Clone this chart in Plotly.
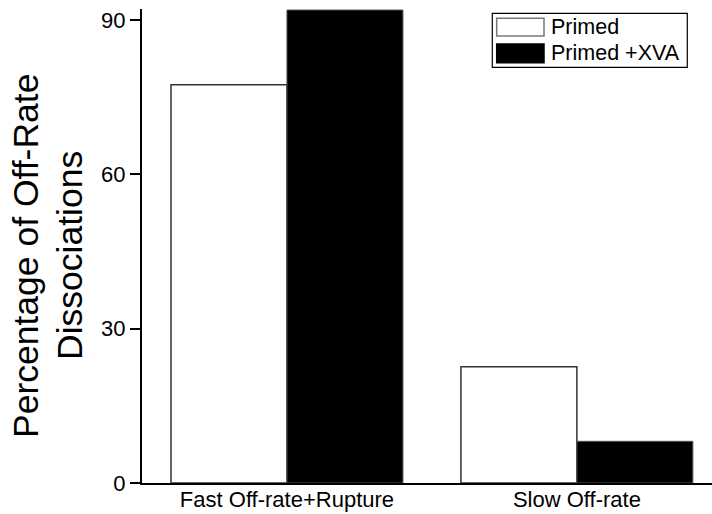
import plotly.graph_objects as go

categories = ["Fast Off-rate+Rupture", "Slow Off-rate"]
primed = [77.4, 22.6]
primed_xva = [91.9, 8.1]
series_names = ["Primed", "Primed +XVA"]
y_ticks = [0, 30, 60, 90]
y_title_lines = ["Percentage of Off-Rate", "Dissociations"]

FONT = "Liberation Sans, Arial, sans-serif"
W, H = 712, 514
ML, MR, MT, MB = 142, 0, 9, 31
PW = W - ML - MR
PH = H - MT - MB


def px(xp):
    return (xp - ML) / PW


def py(yp):
    return (H - MB - yp) / PH


fig = go.Figure()
fig.add_trace(go.Bar(x=categories, y=primed, name=series_names[0],
                     marker=dict(color="white", line=dict(color="#333333", width=1.5)),
                     showlegend=False))
fig.add_trace(go.Bar(x=categories, y=primed_xva, name=series_names[1],
                     marker=dict(color="black", line=dict(color="#555555", width=1)),
                     showlegend=False))

shapes = []
annotations = []
# legend box
shapes.append(dict(type="rect", xref="paper", yref="paper",
                   x0=px(492.3), x1=px(687.3), y0=py(67.3), y1=py(13.3),
                   line=dict(color="black", width=1.2), fillcolor="white", layer="above"))
swatches = [("white", "#777777", 18.3, 36.0), ("black", "black", 44.0, 62.7)]
for name, (fc, lc, t, b) in zip(series_names, swatches):
    shapes.append(dict(type="rect", xref="paper", yref="paper",
                       x0=px(496.7), x1=px(544), y0=py(b), y1=py(t),
                       line=dict(color=lc, width=1.5), fillcolor=fc, layer="above"))
    annotations.append(dict(text=name, xref="paper", yref="paper",
                            x=px(549), y=py((t + b) / 2), xanchor="left", yanchor="middle",
                            showarrow=False, font=dict(family=FONT, size=21.5, color="black")))

# y-axis title lines
for line, xc in zip(y_title_lines, [26, 70]):
    annotations.append(dict(text=line, xref="paper", yref="paper",
                            x=px(xc), y=py(256), xanchor="center", yanchor="middle",
                            textangle=-90, showarrow=False,
                            font=dict(family=FONT, size=35.5, color="black")))

fig.update_layout(
    width=W, height=H,
    margin=dict(l=ML, r=MR, t=MT, b=MB, pad=0, autoexpand=False),
    paper_bgcolor="white", plot_bgcolor="white",
    barmode="group", bargap=0.2, bargroupgap=0,
    font=dict(family=FONT, color="black"),
    shapes=shapes, annotations=annotations,
    showlegend=False,
)
fig.update_xaxes(range=[-0.5, 1.466], showline=True, linecolor="black", linewidth=2,
                 ticks="", showgrid=False, zeroline=False, automargin=False,
                 ticklabelstandoff=-4,
                 tickfont=dict(family=FONT, size=22, color="black"))
fig.update_yaxes(range=[0, 92.1], tickvals=y_ticks, showline=True, linecolor="black",
                 linewidth=2, ticks="outside", ticklen=10, tickwidth=1.5, tickcolor="black",
                 showgrid=False, zeroline=False, automargin=False,
                 tickfont=dict(family=FONT, size=22, color="black"))

fig.write_html("out.html")
